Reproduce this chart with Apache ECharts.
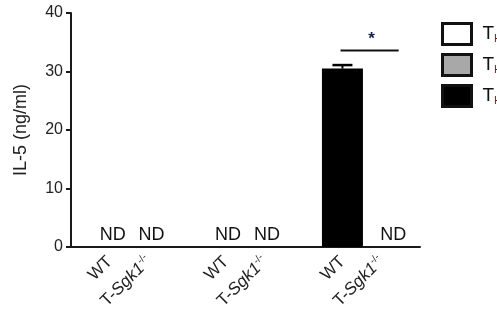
<!DOCTYPE html>
<html>
<head>
<meta charset="utf-8">
<script src="https://cdn.jsdelivr.net/npm/echarts@6/dist/echarts.min.js"></script>
<style>
  html, body { margin: 0; padding: 0; background: #fff; }
  #chart { width: 497px; height: 322px; }
</style>
</head>
<body>
<div id="chart"></div>
<script>
// Bar positions on the x scale (two genotypes per T-helper subset, gap between subsets)
const positions = [1, 2, 4, 5, 7, 8];
const genotypes = ['WT', 'T-Sgk1', 'WT', 'T-Sgk1', 'WT', 'T-Sgk1'];
// IL-5 (ng/ml); 0 = not detected
const th1Values = [0, 0];
const th2Values = [0, 0];
const th17Values = [30.5, 0];
const th17Error = [0.6, 0];
const subsetNames = ['TH1', 'TH2', 'TH17'];
const yTicks = [0, 10, 20, 30, 40];
// significance bracket: [from x, to x, at y]
const sigBracket = [6.95, 8.45, 33.6];
const sigMark = '*';

const FONT = 'Arial, "Liberation Sans", sans-serif';

const labelFor = {};
positions.forEach((p, i) => { labelFor[p] = genotypes[i]; });

function pairs(xs, ys) { return xs.map((x, i) => [x, ys[i]]); }

const ndLabel = {
  show: true,
  position: 'top',
  distance: 3,
  fontFamily: FONT,
  fontSize: 18,
  color: '#111',
  formatter: p => (p.value[1] === 0 ? 'ND' : '')
};

const chart = echarts.init(document.getElementById('chart'), null, { renderer: 'canvas' });

chart.setOption({
  animation: false,
  backgroundColor: '#ffffff',
  grid: { left: 71, right: 77, top: 13, bottom: 75, containLabel: false },
  legend: {
    orient: 'vertical',
    left: 441,
    top: 22,
    padding: 0,
    itemWidth: 29,
    itemHeight: 21,
    itemGap: 7,
    icon: 'rect',
    itemStyle: { borderColor: '#111', borderWidth: 3 },
    data: subsetNames,
    formatter: n => '{t|T}{s|' + n.slice(1) + '}',
    textStyle: {
      fontFamily: FONT,
      color: '#111',
      rich: {
        t: { fontSize: 19, fontFamily: FONT, color: '#111', padding: [0, 0, 0, 6], lineHeight: 21 },
        s: { fontSize: 11, fontFamily: FONT, color: '#7a1f1f', verticalAlign: 'bottom', padding: [8, 0, 0, 0], lineHeight: 21 }
      }
    }
  },
  xAxis: {
    type: 'value',
    min: 0,
    max: 9,
    interval: 1,
    splitLine: { show: false },
    axisTick: { show: false },
    axisLine: { show: true, lineStyle: { color: '#1a1a1a', width: 2 } },
    axisLabel: {
      rotate: 45,
      margin: 12,
      fontFamily: FONT,
      fontSize: 17,
      color: '#222',
      showMinLabel: false,
      showMaxLabel: false,
      formatter: v => {
        const g = labelFor[v];
        if (!g) return '';
        if (g === 'WT') return '{n|WT}';
        return '{n|T-}{i|Sgk1}{s|-/-}';
      },
      rich: {
        n: { fontFamily: FONT, fontSize: 17, color: '#222' },
        i: { fontFamily: FONT, fontSize: 17, fontStyle: 'italic', color: '#222' },
        s: { fontFamily: FONT, fontSize: 10, color: '#222', verticalAlign: 'top', padding: [0, 0, 9, 0] }
      }
    }
  },
  yAxis: {
    type: 'value',
    min: yTicks[0],
    max: yTicks[yTicks.length - 1],
    interval: 10,
    name: 'IL-5 (ng/ml)',
    nameLocation: 'middle',
    nameGap: 41,
    nameTextStyle: { fontFamily: FONT, fontSize: 18, color: '#222' },
    splitLine: { show: false },
    axisLine: { show: true, lineStyle: { color: '#1a1a1a', width: 2 } },
    axisTick: { show: true, length: 5, lineStyle: { color: '#1a1a1a', width: 2 } },
    axisLabel: { fontFamily: FONT, fontSize: 16, color: '#222', margin: 8 }
  },
  series: [
    {
      name: subsetNames[0], type: 'bar', barWidth: 41, barGap: '-100%',
      itemStyle: { color: '#ffffff' },
      label: Object.assign({}, ndLabel, { offset: [3, 0] }),
      data: pairs(positions.slice(0, 2), th1Values)
    },
    {
      name: subsetNames[1], type: 'bar', barWidth: 41, barGap: '-100%',
      itemStyle: { color: '#a8a8a8' },
      label: Object.assign({}, ndLabel, { offset: [2, 0] }),
      data: pairs(positions.slice(2, 4), th2Values)
    },
    {
      name: subsetNames[2], type: 'bar', barWidth: 41, barGap: '-100%',
      itemStyle: { color: '#000000' },
      label: ndLabel,
      data: pairs(positions.slice(4, 6), th17Values).map(d =>
        d[1] === 0 ? { value: d, label: { offset: [12, 0] } } : { value: d })
    },
    {
      // error bars for the TH17 bars
      type: 'custom',
      silent: true,
      z: 5,
      data: pairs(positions.slice(4, 6), th17Values).map((d, i) => [d[0], d[1], th17Error[i]]),
      renderItem: (params, api) => {
        const x = api.value(0), y = api.value(1), e = api.value(2);
        if (!e) return null;
        const base = api.coord([x, y]);
        const top = api.coord([x, y + e]);
        return {
          type: 'group',
          children: [
            { type: 'line', shape: { x1: base[0], y1: base[1], x2: top[0], y2: top[1] },
              style: { stroke: '#000', lineWidth: 2 } },
            { type: 'line', shape: { x1: top[0] - 10, y1: top[1], x2: top[0] + 10, y2: top[1] },
              style: { stroke: '#000', lineWidth: 2.5 } }
          ]
        };
      }
    },
    {
      // significance bracket with its mark
      type: 'custom',
      silent: true,
      z: 5,
      data: [sigBracket],
      renderItem: (params, api) => {
        const a = api.coord([api.value(0), api.value(2)]);
        const b = api.coord([api.value(1), api.value(2)]);
        return {
          type: 'group',
          children: [
            { type: 'line', shape: { x1: a[0], y1: a[1], x2: b[0], y2: b[1] },
              style: { stroke: '#111', lineWidth: 2 } },
            { type: 'text', x: (a[0] + b[0]) / 2 + 2, y: a[1] - 3,
              style: { text: sigMark, fontFamily: FONT, fontSize: 17, fontWeight: 'bold',
                       fill: '#1a1f4a', align: 'center', verticalAlign: 'bottom' } }
          ]
        };
      }
    }
  ]
});
</script>
</body>
</html>
